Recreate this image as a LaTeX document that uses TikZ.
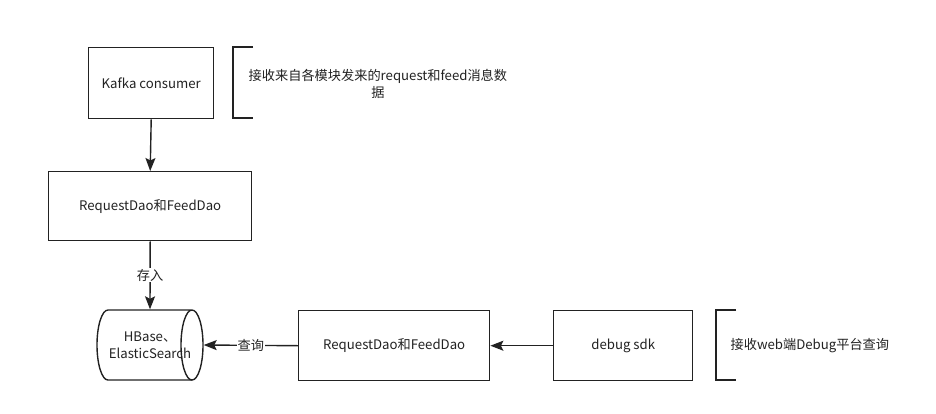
\documentclass[tikz,border=0pt]{standalone}
\usepackage{fontspec}
\setmainfont{Noto Sans CJK SC}
\usetikzlibrary{arrows.meta}
\begin{document}
\begin{tikzpicture}[x=1pt,y=-1pt,
  line width=1.4pt, draw={rgb,255:red,34;green,34;blue,34},
  every node/.style={font=\fontsize{13.2}{17}\selectfont, text={rgb,255:red,34;green,34;blue,34}},
  box/.style={draw, line width=1.4pt, inner sep=0pt, anchor=north west},
  lbl/.style={fill=white, inner sep=1pt},
  arr/.style={-{Stealth[length=13pt,width=10pt,inset=2.5pt]}}]
\useasboundingbox[fill=white] (0,0) rectangle (936,413);
% boxes
\node[box, minimum width=125, minimum height=71] (kafka) at (88,47) {Kafka consumer};
\node[box, minimum width=203, minimum height=69] (dao1) at (48,171) {RequestDao和FeedDao};
\node[box, minimum width=191, minimum height=70] (dao2) at (298,310) {RequestDao和FeedDao};
\node[box, minimum width=139, minimum height=70] (sdk) at (553,310) {debug sdk};
% cylinder
\coordinate (c1) at (108,310);
\coordinate (c2) at (192,310);
\draw (c1) -- (c2) arc[start angle=-90, end angle=270, x radius=11, y radius=35];
\draw (c1) arc[start angle=-90, end angle=-270, x radius=11, y radius=35] -- (192,380);
\node[minimum width=106, minimum height=70, inner sep=0pt, align=center] (db) at (150,345) {HBase、\\ElasticSearch};
% annotations
\node[align=center, anchor=west, inner sep=0pt] (note1) at (248,84) {接收来自各模块发来的request和feed消息数\\据};
\draw (253,47) -- (233,47) -- (233,118) -- (253,118);
\node[anchor=west, inner sep=0pt] (note2) at (730,346) {接收web端Debug平台查询};
\draw (736,310) -- (716,310) -- (716,380) -- (736,380);
% connectors
\draw[arr] (kafka.south) -- (dao1.north);
\draw[arr] (dao1.south) -- (db.north) node[lbl, pos=0.5] {存入};
\draw[arr] (dao2.west) -- (db.east) node[lbl, pos=0.5] {查询};
\draw[arr] (sdk.west) -- (dao2.east);
\end{tikzpicture}
\end{document}
